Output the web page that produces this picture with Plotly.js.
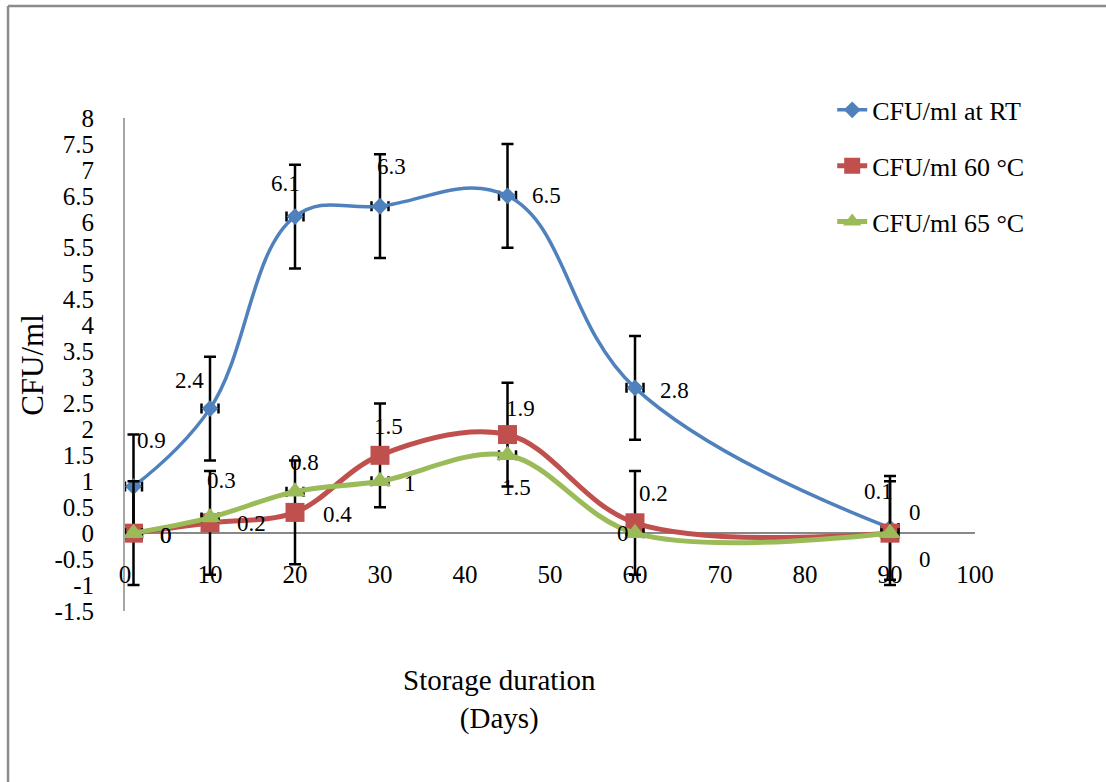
<!DOCTYPE html>
<html>
<head>
<meta charset="utf-8">
<script src="https://cdn.plot.ly/plotly-3.0.1.min.js"></script>
<style>
  html, body { margin: 0; padding: 0; background: #ffffff; }
  #chart { width: 1106px; height: 782px; }
</style>
</head>
<body>
<div id="chart"></div>
<script>
// ---- Data ----
const days = [1, 10, 20, 30, 45, 60, 90];
const cfuRT = [0.9, 2.4, 6.1, 6.3, 6.5, 2.8, 0.1];
const cfu60 = [0, 0.2, 0.4, 1.5, 1.9, 0.2, 0];
const cfu65 = [0, 0.3, 0.8, 1, 1.5, 0, 0];
const seriesNames = ['CFU/ml at RT', 'CFU/ml 60 °C', 'CFU/ml 65 °C'];
const errRT = 1, err60 = 1, errX = 1;
const xTickVals = [0, 10, 20, 30, 40, 50, 60, 70, 80, 90, 100];
const xTickText = ['0', '10', '20', '30', '40', '50', '60', '70', '80', '90', '100'];
const yTickVals = [8, 7.5, 7, 6.5, 6, 5.5, 5, 4.5, 4, 3.5, 3, 2.5, 2, 1.5, 1, 0.5, 0, -0.5, -1, -1.5];
const yTickText = ['8', '7.5', '7', '6.5', '6', '5.5', '5', '4.5', '4', '3.5', '3', '2.5', '2', '1.5', '1', '0.5', '0', '-0.5', '-1', '-1.5'];
const xTitle = 'Storage duration<br>(Days)';
const yTitle = 'CFU/ml';

// ---- Data-label offsets (pixels), styling only ----
const offRT = [[18, 46], [-21, 28], [-10, 33], [11, 40], [39, 0], [39, -3], [-12, 36]];
const off60 = [[32, -2], [41, -1], [42, -2], [8, 29], [13, 26], [18, 29], [25, 21]];
const off65 = [[32, -2], [11, 37], [9, 29], [30, -2], [9, -32], [-12, 0], [35, -26]];

const FONT = 'Liberation Serif, Times New Roman, serif';
const BLUE = '#4F81BD', RED = '#C0504D', GREEN = '#9BBB59';

const traces = [
  {
    x: days, y: cfuRT, name: seriesNames[0], type: 'scatter', mode: 'lines+markers',
    legendgroup: 'a',
    line: { color: BLUE, width: 3.5, shape: 'spline', smoothing: 1.15 },
    marker: { symbol: 'diamond', size: 13, color: BLUE },
    error_y: { type: 'constant', value: errRT, color: '#000', thickness: 2.5, width: 6 },
    error_x: { type: 'constant', value: errX, color: '#000', thickness: 2.5, width: 5 }
  },
  {
    x: days, y: cfu60, name: seriesNames[1], type: 'scatter', mode: 'lines+markers',
    legendgroup: 'b',
    line: { color: RED, width: 5, shape: 'spline', smoothing: 1 },
    marker: { symbol: 'square', size: 19, color: RED },
    error_y: { type: 'constant', value: err60, color: '#000', thickness: 2.5, width: 6 }
  },
  {
    x: days, y: cfu65, name: seriesNames[2], type: 'scatter', mode: 'lines+markers',
    legendgroup: 'c',
    line: { color: GREEN, width: 5, shape: 'spline', smoothing: 1 },
    marker: { symbol: 'triangle-up', size: 19, color: GREEN },
    error_x: { type: 'constant', value: errX, color: '#000', thickness: 2.5, width: 5 }
  }
];

function labels(xs, ys, offs) {
  return xs.map((x, i) => ({
    x: x, y: ys[i], xref: 'x', yref: 'y', text: String(ys[i]), showarrow: false,
    xshift: offs[i][0], yshift: offs[i][1],
    font: { family: FONT, size: 23, color: '#000' }
  }));
}

const annotations = [].concat(
  labels(days, cfuRT, offRT),
  labels(days, cfu60, off60),
  labels(days, cfu65, off65),
  [
    { xref: 'paper', yref: 'paper', x: 0.441, y: -0.1805, xanchor: 'center', yanchor: 'middle',
      text: xTitle, showarrow: false,
      font: { family: FONT, size: 29, color: '#000' }, align: 'center' },
    { xref: 'paper', yref: 'paper', x: -0.109, y: 0.50, xanchor: 'center', yanchor: 'middle',
      text: yTitle, showarrow: false, textangle: -90,
      font: { family: FONT, size: 31, color: '#000' } }
  ]
);

const layout = {
  width: 1106, height: 782,
  margin: { l: 125, r: 131, t: 118, b: 171 },
  paper_bgcolor: '#ffffff', plot_bgcolor: '#ffffff',
  font: { family: FONT, size: 25, color: '#000' },
  showlegend: true,
  legend: {
    x: 0.832, y: 1.064, xanchor: 'left', yanchor: 'top',
    font: { family: FONT, size: 26, color: '#000' },
    traceorder: 'grouped', tracegroupgap: 19, bgcolor: 'rgba(0,0,0,0)'
  },
  xaxis: {
    range: [0, 100], tickvals: xTickVals, ticktext: xTickText,
    showgrid: false, zeroline: false, showline: false, ticks: '',
    anchor: 'free', position: 0.11,
    tickfont: { family: FONT, size: 25, color: '#000' }
  },
  yaxis: {
    range: [-1.5, 8], tickvals: yTickVals, ticktext: yTickText,
    showgrid: false, zeroline: true, zerolinecolor: '#888888', zerolinewidth: 2,
    showline: true, linecolor: '#a6a6a6', linewidth: 2, ticks: '',
    ticklabelstandoff: 24,
    tickfont: { family: FONT, size: 25, color: '#000' }
  },
  annotations: annotations,
  shapes: [
    { type: 'line', xref: 'paper', yref: 'paper', x0: -0.1376, x1: -0.1376, y0: 1.227, y1: -0.36,
      line: { color: '#8c8c8c', width: 2.5 } },
    { type: 'line', xref: 'paper', yref: 'paper', x0: -0.1376, x1: 1.16, y0: 1.227, y1: 1.227,
      line: { color: '#8c8c8c', width: 2.5 } }
  ]
};

Plotly.newPlot('chart', traces, layout, { displayModeBar: false, staticPlot: true });
</script>
</body>
</html>
